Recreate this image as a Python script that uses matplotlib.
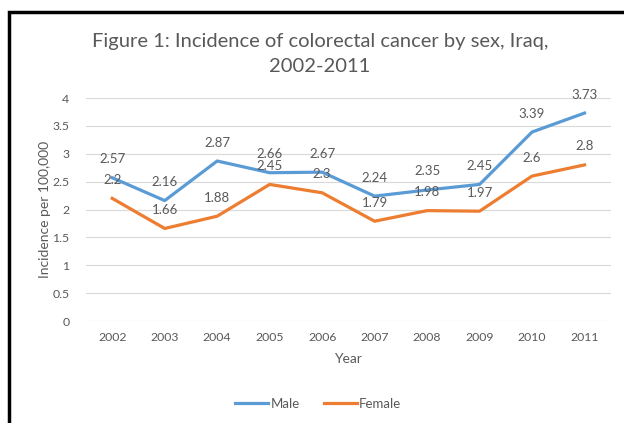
import matplotlib.pyplot as plt
import numpy as np
from matplotlib.patches import Rectangle

plt.rcParams['font.family'] = ['Lato', 'DejaVu Sans']

years = ['2002', '2003', '2004', '2005', '2006', '2007', '2008', '2009', '2010', '2011']
male = [2.57, 2.16, 2.87, 2.66, 2.67, 2.24, 2.35, 2.45, 3.39, 3.73]
female = [2.2, 1.66, 1.88, 2.45, 2.3, 1.79, 1.98, 1.97, 2.6, 2.8]

txt = '#595959'
fig = plt.figure(figsize=(6.24, 4.23), dpi=100)
ax = fig.add_axes([0.1378, 0.2411, 0.841, 0.5272])

x = np.arange(len(years))
ax.plot(x, male, color='#5B9BD5', lw=2.3, label='Male', solid_joinstyle='round')
ax.plot(x, female, color='#ED7D31', lw=2.3, label='Female', solid_joinstyle='round')

for xi, v in zip(x, male):
    ax.annotate(f'{v:g}', (xi, v), xytext=(0, 9), textcoords='offset points',
                ha='center', va='bottom', fontsize=9.5, color=txt)
for xi, v in zip(x, female):
    ax.annotate(f'{v:g}', (xi, v), xytext=(0, 9), textcoords='offset points',
                ha='center', va='bottom', fontsize=9.5, color=txt)

ax.set_xlim(-0.5, 9.5)
ax.set_ylim(0, 4)
ax.set_yticks(np.arange(0, 4.01, 0.5))
ax.set_yticklabels(['0', '0.5', '1', '1.5', '2', '2.5', '3', '3.5', '4'])
ax.set_xticks(x)
ax.set_xticklabels(years)
ax.tick_params(length=0, labelsize=8.8, colors=txt)
ax.tick_params(axis='y', pad=12)
ax.tick_params(axis='x', pad=8)
ax.grid(axis='y', color='#D9D9D9', lw=0.8)
ax.set_axisbelow(True)
for s in ax.spines.values():
    s.set_visible(False)

ax.set_xlabel('Year', fontsize=10, color=txt, labelpad=7)
ax.set_ylabel('Incidence per 100,000', fontsize=10, color=txt, labelpad=1)

fig.text(0.513, 0.872, 'Figure 1: Incidence of colorectal cancer by sex, Iraq,\n2002-2011',
         ha='center', va='center', fontsize=14.5, color=txt, linespacing=1.55)

fig.legend(loc='center', bbox_to_anchor=(0.51, 0.045), ncol=2, frameon=False,
           fontsize=9.5, labelcolor=txt, handlelength=2.5, handletextpad=0.2,
           columnspacing=1.8)

fig.patches.append(Rectangle((9 / 624, -0.1), 1.2, 1.1 - 12 / 423,
                             transform=fig.transFigure, fill=False,
                             edgecolor='black', lw=2.5))

plt.savefig('out.png', dpi=100)
